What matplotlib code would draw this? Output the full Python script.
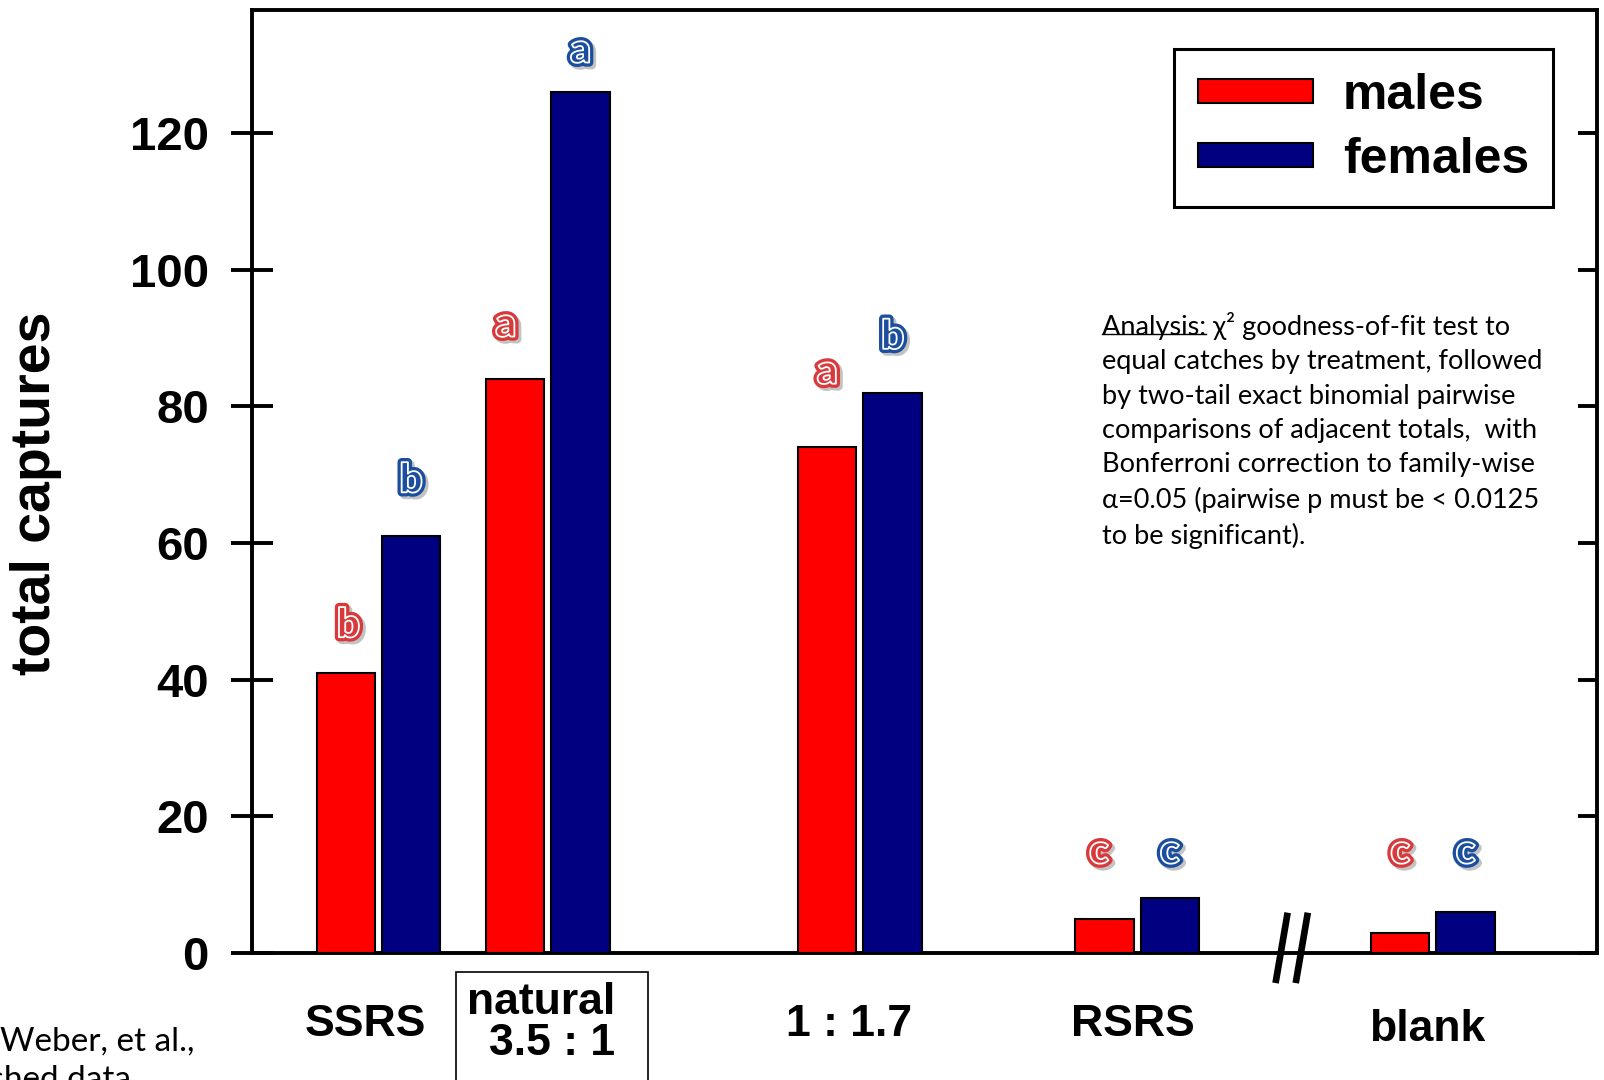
import matplotlib
matplotlib.use("Agg")
import matplotlib.pyplot as plt
import matplotlib.patheffects as pe
from matplotlib.lines import Line2D
from matplotlib.patches import Rectangle
import numpy as np

# ---------------------------------------------------------------------------
# Data (total captures per treatment)
# ---------------------------------------------------------------------------
treatments = ["SSRS", "natural\n3.5 : 1", "1 : 1.7", "RSRS", "blank"]
males = [41, 84, 74, 5, 3]
females = [61, 126, 82, 8, 6]
letters_males = ["b", "a", "a", "c", "c"]
letters_females = ["b", "a", "b", "c", "c"]

note_lines = [
    "Analysis: \u03c7\u00b2 goodness-of-fit test to",
    "equal catches by treatment, followed",
    "by two-tail exact binomial pairwise",
    "comparisons of adjacent totals,  with",
    "Bonferroni correction to family-wise",
    "\u03b1=0.05 (pairwise p must be < 0.0125",
    "to be significant).",
]

# ---------------------------------------------------------------------------
# Layout (group positions on a 0..10 axis, label placement)
# ---------------------------------------------------------------------------
group_x = np.array([0.94, 2.20, 4.52, 6.58, 8.78])
bar_w = 0.434
bar_off = 0.243
label_x = [0.84, 2.15, 4.44, 6.55, 8.74]
label_y = [-0.088, -0.031, -0.088, -0.088, -0.093]
letter_dx_males = [0.02, -0.07, 0.0, -0.04, 0.0]
letter_y_males = [47.9, 91.9, 85.0, 14.8, 14.8]
letter_y_females = [69.1, 132.0, 90.1, 14.8, 14.8]
break_x = 7.72

RED = "#FF0000"
NAVY = "#000080"
LETTER_RED = "#D83A3C"
LETTER_BLUE = "#1B4F9E"

plt.rcParams["font.family"] = ["Liberation Sans", "DejaVu Sans"]
SANS_LIGHT = ["Lato", "DejaVu Sans"]

fig = plt.figure(figsize=(16.04, 10.80), dpi=100)
ax = fig.add_axes([252 / 1604, 1 - 953 / 1080, 1345 / 1604, 943 / 1080])

ax.bar(group_x - bar_off, males, width=bar_w, color=RED, edgecolor="black",
       linewidth=1.5, label="males", zorder=3)
ax.bar(group_x + bar_off, females, width=bar_w, color=NAVY, edgecolor="black",
       linewidth=1.5, label="females", zorder=3)

ax.set_xlim(0, 10)
ax.set_ylim(0, 138)
yticks = np.arange(0, 121, 20)
ax.set_yticks(yticks)
ax.tick_params(axis="y", direction="inout", length=30, width=2.8,
               labelsize=34, pad=16)
for lbl in ax.get_yticklabels():
    lbl.set_fontweight("bold")
ax.tick_params(axis="x", bottom=False, labelbottom=False)
for s in ax.spines.values():
    s.set_linewidth(2.8)

# right side ticks point inward
ax_r = ax.twinx()
ax_r.set_ylim(ax.get_ylim())
ax_r.set_yticks(yticks)
ax_r.tick_params(axis="y", direction="in", length=14, width=2.8, labelright=False)
for s in ax_r.spines.values():
    s.set_visible(False)

ax.set_ylabel("total captures", fontsize=40, fontweight="bold", va="center", ha="center")
ax.yaxis.set_label_coords(-0.1606, 0.488)

# ---------------------------------------------------------------------------
# Category labels
# ---------------------------------------------------------------------------
for i, name in enumerate(treatments):
    if "\n" in name:
        ax.text(label_x[i], label_y[i], name, transform=ax.get_xaxis_transform(),
                ha="center", va="top", fontsize=32, fontweight="bold",
                multialignment="right", linespacing=1.0, clip_on=False)
    else:
        ax.text(label_x[i], label_y[i], name, transform=ax.get_xaxis_transform(),
                ha="center", va="baseline", fontsize=32, fontweight="bold",
                clip_on=False)

# box around the "natural" label, running off the bottom of the slide
fig.add_artist(Rectangle((456 / 1604, 1 - 1090 / 1080), 192 / 1604, 118 / 1080,
                         transform=fig.transFigure, fill=False, ec="black", lw=1.2))

# ---------------------------------------------------------------------------
# Significance letters
# ---------------------------------------------------------------------------
def letter_effects(c):
    return [pe.Stroke(offset=(2, -2), linewidth=6, foreground="#7a7a7a", alpha=0.45),
            pe.Stroke(linewidth=6, foreground=c),
            pe.Normal(),
            pe.Stroke(linewidth=1.3, foreground="white")]

for i in range(len(treatments)):
    ax.text(group_x[i] - bar_off + letter_dx_males[i], letter_y_males[i], letters_males[i],
            ha="center", va="center", fontsize=29, fontweight="heavy",
            family=SANS_LIGHT, color=LETTER_RED,
            path_effects=letter_effects(LETTER_RED), zorder=5)
    ax.text(group_x[i] + bar_off, letter_y_females[i], letters_females[i],
            ha="center", va="center", fontsize=29, fontweight="heavy",
            family=SANS_LIGHT, color=LETTER_BLUE,
            path_effects=letter_effects(LETTER_BLUE), zorder=5)

# axis break marks
for dx in (0.0, 0.15):
    ax.plot([break_x - 0.11 + dx, break_x - 0.02 + dx], [-4.4, 5.9], color="black",
            lw=4.8, solid_capstyle="butt", clip_on=False, zorder=6)

# ---------------------------------------------------------------------------
# Legend
# ---------------------------------------------------------------------------
leg = ax.legend(loc="upper left", bbox_to_anchor=(0.6855, 0.9586), borderaxespad=0,
                prop={"weight": "bold", "size": 36}, frameon=True, fancybox=False,
                edgecolor="black", framealpha=1, borderpad=0.48, labelspacing=0.36,
                handlelength=2.3, handleheight=0.36, handletextpad=0.6)
leg.get_frame().set_linewidth(2.2)

# ---------------------------------------------------------------------------
# Analysis note (with underlined "Analysis:")
# ---------------------------------------------------------------------------
note_x, note_y, note_fs = 0.632, 0.680, 19.5
ax.text(note_x, note_y, "\n".join(note_lines), transform=ax.transAxes,
        ha="left", va="top", fontsize=note_fs, family=SANS_LIGHT, linespacing=1.47)

fig.canvas.draw()
renderer = fig.canvas.get_renderer()
tmp = ax.text(note_x, note_y, "Analysis:", transform=ax.transAxes, ha="left",
              va="top", fontsize=note_fs, family=SANS_LIGHT)
bb = tmp.get_window_extent(renderer)
_, _, desc = renderer.get_text_width_height_descent("Analysis:", tmp.get_fontproperties(), ismath=False)
tmp.remove()
fpx = note_fs * fig.dpi / 72
y_ul = bb.y0 + desc - 0.1 * fpx
W, H = fig.bbox.width, fig.bbox.height
fig.add_artist(Line2D([bb.x0 / W, bb.x1 / W], [y_ul / H, y_ul / H], color="black", lw=1.0))

# source note (cropped in the original slide)
fig.text(0.0, 1 - 1051 / 1080, "Weber, et al.,", ha="left", va="baseline",
         fontsize=24, family=SANS_LIGHT)
fig.text(131 / 1604, 1 - 1089 / 1080, "unpublished data", ha="right", va="baseline",
         fontsize=24, family=SANS_LIGHT)

fig.savefig("out.png", dpi=100)
